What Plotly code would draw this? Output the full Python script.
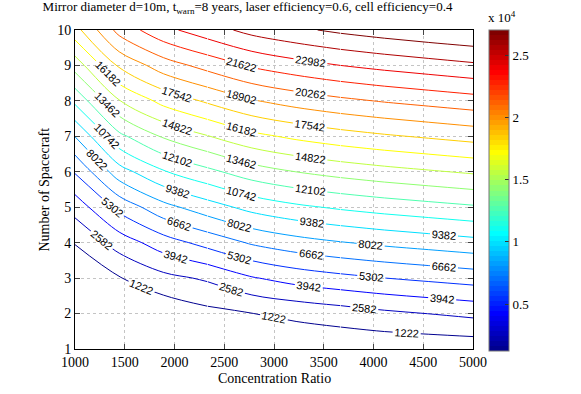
import numpy as np
import plotly.graph_objects as go

# grid used for the contour (concentration ratio x number of spacecraft)
ratio = [1000, 1444.4, 1888.9, 2333.3, 2777.8, 3222.2, 3666.7, 4111.1, 4555.6, 5000]
n_craft = [1, 2, 3, 4, 5, 6, 7, 8, 9, 10]

# values, one row per spacecraft count
z_n1 = [-138, -60, -40, -20, 0, 40, 108, 177, 238, 318]
z_n2 = [-130, 100, 182, 817, 1200, 1560, 1904, 2301, 2601, 2900]
z_n3 = [-100, 1140, 2182, 2783, 3831, 4490, 4931, 5292, 5591, 5889]
z_n4 = [1300, 3189, 4665, 5776, 6824, 7483, 7941, 8312, 8621, 8929]
z_n5 = [3130, 5716, 7578, 8769, 9817, 10476, 10935, 11306, 11617, 11925]
z_n6 = [5420, 8791, 10625, 11762, 12810, 13469, 13956, 14345, 14673, 14999]
z_n7 = [8051, 11763, 13618, 14755, 15803, 16462, 16968, 17367, 17707, 18045]
z_n8 = [11044, 14756, 16611, 17748, 18796, 19455, 19964, 20366, 20708, 21048]
z_n9 = [14037, 17749, 19604, 20741, 21789, 22448, 22978, 23392, 23747, 24100]
z_n10 = [17030, 20741, 22597, 23734, 24782, 25441, 25979, 26398, 26758, 27062]
z_grid = [z_n1, z_n2, z_n3, z_n4, z_n5, z_n6, z_n7, z_n8, z_n9, z_n10]

level_start, level_end, level_step = 1222, 25702, 1360
c_min, c_max = 1222, 27062

cbar_vals = [5000, 10000, 15000, 20000, 25000]
cbar_text = ["0.5", "1", "1.5", "2", "2.5"]
x_ticks = [1000, 1500, 2000, 2500, 3000, 3500, 4000, 4500, 5000]
y_ticks = [1, 2, 3, 4, 5, 6, 7, 8, 9, 10]

# column slices, one contour trace each, so every part gets its own labels
segments = [(0, 4), (3, 7), (6, 10)]


def matlab_jet(m=64):
    # same construction as matlab's jet(m), as a stepped colorscale
    n = int(np.ceil(m / 4))
    u = np.concatenate([np.arange(1, n + 1) / n, np.ones(n - 1), np.arange(n, 0, -1) / n])
    g = int(np.ceil(n / 2)) - (1 if m % 4 == 1 else 0) + np.arange(1, len(u) + 1)
    r = g + n
    b = g - n
    cmap = np.zeros((m, 3))
    for idx, val in zip(r, u):
        if 1 <= idx <= m:
            cmap[idx - 1, 0] = val
    for idx, val in zip(g, u):
        if 1 <= idx <= m:
            cmap[idx - 1, 1] = val
    for idx, val in zip(b, u):
        if 1 <= idx <= m:
            cmap[idx - 1, 2] = val
    scale = []
    for i, (cr, cg, cb) in enumerate(cmap):
        col = f"rgb({round(cr*255)},{round(cg*255)},{round(cb*255)})"
        scale.append([i / m, col])
        scale.append([(i + 1) / m, col])
    return scale


jet = matlab_jet()
serif = "Liberation Serif, Times New Roman, serif"

fig = go.Figure()

for a, b in segments:
    fig.add_trace(go.Contour(
        x=ratio[a:b],
        y=n_craft,
        z=[row[a:b] for row in z_grid],
        colorscale=jet,
        zauto=False,
        zmin=c_min,
        zmax=c_max,
        showscale=False,
        contours=dict(
            start=level_start,
            end=level_end,
            size=level_step,
            coloring="lines",
            showlabels=True,
            labelformat=".0f",
            labelfont=dict(family="Liberation Sans, Arial", size=11, color="black"),
        ),
        line=dict(width=1),
        hoverinfo="skip",
    ))

# colorbar only (matlab style continuous bar)
fig.add_trace(go.Scatter(
    x=[None], y=[None],
    mode="markers",
    showlegend=False,
    marker=dict(
        colorscale=jet,
        cmin=c_min,
        cmax=c_max,
        color=[c_min],
        showscale=True,
        colorbar=dict(
            x=(489 - 75) / 398,
            xanchor="left",
            y=0.497,
            yanchor="middle",
            len=321,
            lenmode="pixels",
            thickness=20,
            thicknessmode="pixels",
            outlinecolor="#777777",
            outlinewidth=1,
            tickvals=cbar_vals,
            ticktext=cbar_text,
            ticks="inside",
            ticklen=4,
            tickcolor="#333333",
            tickfont=dict(family=serif, size=13, color="black"),
            xpad=0,
            ypad=0,
        ),
    ),
))

axis_style = dict(
    ticks="inside",
    ticklen=5,
    showline=True,
    linecolor="black",
    linewidth=1,
    mirror="ticks",
    showgrid=True,
    gridcolor="#c4c4c4",
    griddash="dot",
    gridwidth=1,
    zeroline=False,
    automargin=False,
    tickfont=dict(family=serif, size=14, color="black"),
)

fig.update_layout(
    width=581,
    height=394,
    margin=dict(l=75, r=108, t=30, b=45, autoexpand=False),
    paper_bgcolor="white",
    plot_bgcolor="white",
    showlegend=False,
    title=dict(
        text="Mirror diameter d=10m, t<sub>warn</sub>=8 years, laser efficiency=0.6, cell efficiency=0.4",
        x=247.5 / 581,
        xanchor="center",
        y=1 - 2 / 394,
        yanchor="top",
        font=dict(family=serif, size=13, color="black"),
    ),
    xaxis=dict(range=[1000, 5000], tickvals=x_ticks, **axis_style),
    yaxis=dict(range=[1, 10], tickvals=y_ticks, **axis_style),
    annotations=[
        dict(
            text="x 10<sup>4</sup>",
            xref="paper", yref="paper",
            x=(502 - 75) / 398, y=1.0,
            xanchor="center", yanchor="bottom",
            yshift=3,
            showarrow=False,
            font=dict(family=serif, size=13, color="black"),
        ),
        dict(
            text="Concentration Ratio",
            xref="paper", yref="paper",
            x=0.5, y=0,
            xanchor="center", yanchor="middle",
            yshift=-29,
            showarrow=False,
            font=dict(family=serif, size=14, color="black"),
        ),
        dict(
            text="Number of Spacecraft",
            xref="paper", yref="paper",
            x=0, y=0.5,
            xanchor="center", yanchor="middle",
            xshift=-31,
            textangle=-90,
            showarrow=False,
            font=dict(family=serif, size=14, color="black"),
        ),
    ],
)

# page body has a default 8px margin; drop it so the figure sits at the window corner
fig.write_html(
    "out.html",
    config={"displayModeBar": False},
    post_script="document.body.style.margin='0';",
)
